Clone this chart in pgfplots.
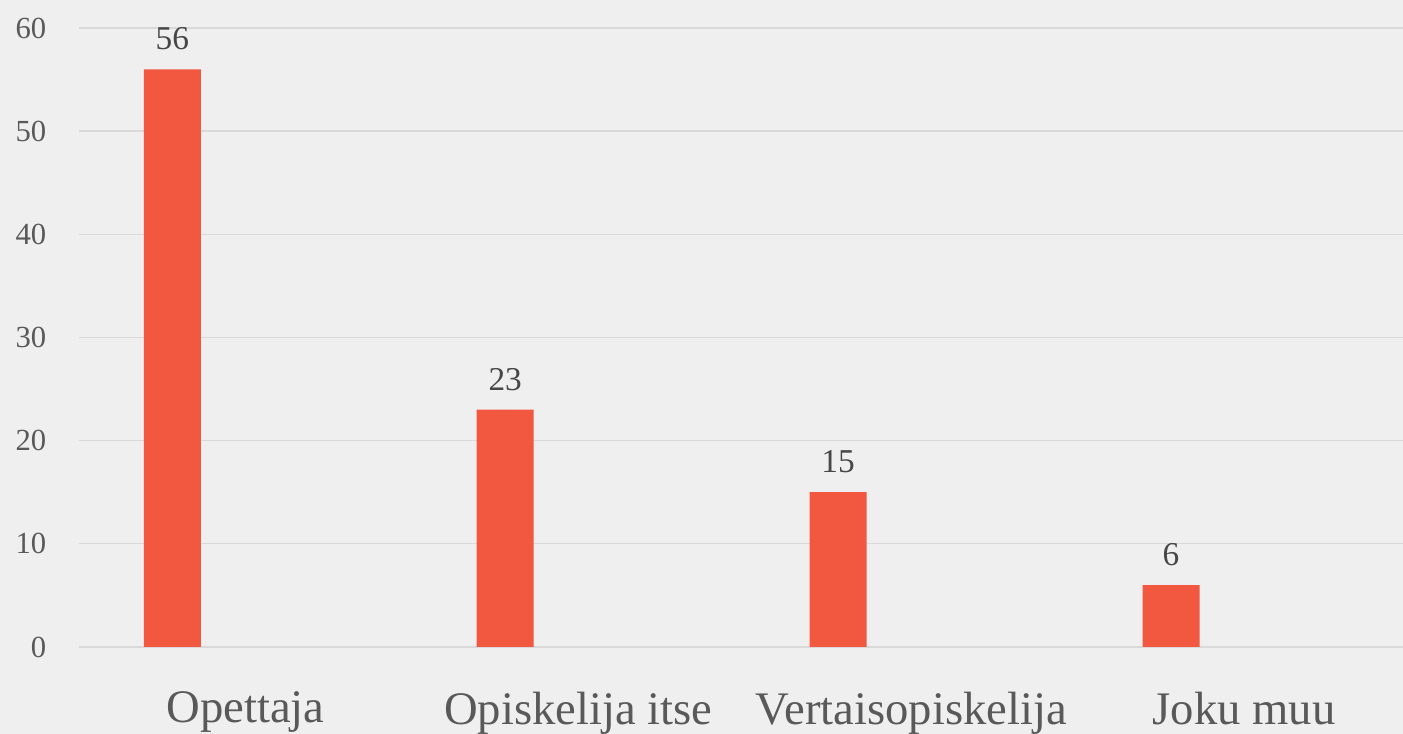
\documentclass[border=0pt]{standalone}
\usepackage{fontspec}
\setmainfont{Liberation Serif}
\usepackage{pgfplots}
\pgfplotsset{compat=1.18}
\definecolor{bgc}{HTML}{EFEFEF}
\definecolor{barc}{HTML}{F25740}
\definecolor{txt}{HTML}{595959}
\definecolor{gridc}{HTML}{D9D9D9}
\begin{document}
\begin{tikzpicture}
\fill[bgc] (-59.25pt,-65.25pt) rectangle (993pt,485.25pt);
\begin{axis}[
  at={(0,0)}, anchor=south west,
  scale only axis, width=993pt, height=464.25pt,
  xmin=-0.5, xmax=3.477, ymin=0, ymax=60,
  axis line style={draw=none},
  major tick style={draw=none},
  ytick={0,10,20,30,40,50,60},
  xtick={0,1,2,3},
  xticklabels={Opettaja, Opiskelija itse, Vertaisopiskelija, Joku muu},
  ymajorgrids, major grid style={gridc, line width=1pt},
  yticklabel style={font=\fontsize{23}{25}\selectfont, text=txt, xshift=-21pt},
  xticklabel style={font=\fontsize{35}{38}\selectfont, text=txt, yshift=-30pt},
  /pgf/number format/assume math mode=true,
]
\addplot[ybar, fill=barc, draw=none, bar width=42.75pt, bar shift=-54.9pt,
  nodes near coords,
  every node near coord/.append style={font=\fontsize{25}{27}\selectfont, text=txt!80!black, xshift=-54.9pt, yshift=11pt},
] coordinates {(0,56) (1,23) (2,15) (3,6)};
\end{axis}
\pgfresetboundingbox
\path[use as bounding box] (-59.25pt,-65.25pt) rectangle (993pt,485.25pt);
\end{tikzpicture}
\end{document}
